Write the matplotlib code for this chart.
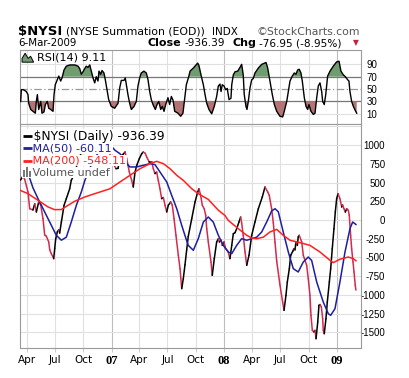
import numpy as np
import matplotlib
matplotlib.use("Agg")
import matplotlib.pyplot as plt
from matplotlib.collections import LineCollection
from matplotlib.patches import Polygon, Rectangle

W, H = 410, 378

# ---- data (x in decimal years) ----
nysi_t = [2006.194, 2006.215, 2006.230, 2006.259, 2006.274, 2006.303, 2006.319, 2006.333,
          2006.354, 2006.372, 2006.392, 2006.407, 2006.421, 2006.443, 2006.452, 2006.466,
          2006.487, 2006.496, 2006.505, 2006.519, 2006.532, 2006.540, 2006.555, 2006.579,
          2006.599, 2006.629, 2006.643, 2006.667, 2006.703, 2006.756, 2006.809, 2006.862,
          2006.916, 2006.969, 2007.013, 2007.040, 2007.058, 2007.075, 2007.091, 2007.105,
          2007.120, 2007.135, 2007.158, 2007.179, 2007.193, 2007.209, 2007.224, 2007.247,
          2007.268, 2007.282, 2007.300, 2007.312, 2007.335, 2007.357, 2007.371, 2007.386,
          2007.401, 2007.415, 2007.430, 2007.445, 2007.460, 2007.475, 2007.490, 2007.504,
          2007.525, 2007.539, 2007.555, 2007.572, 2007.593, 2007.608, 2007.623, 2007.637,
          2007.652, 2007.667, 2007.681, 2007.712, 2007.741, 2007.765, 2007.776, 2007.791,
          2007.806, 2007.823, 2007.836, 2007.845, 2007.859, 2007.883, 2007.894, 2007.912,
          2007.933, 2007.948, 2007.957, 2007.972, 2007.983, 2007.998, 2008.013, 2008.034,
          2008.051, 2008.067, 2008.081, 2008.096, 2008.111, 2008.131, 2008.146, 2008.155,
          2008.169, 2008.185, 2008.200, 2008.220, 2008.244, 2008.273, 2008.303, 2008.338,
          2008.362, 2008.386, 2008.400, 2008.421, 2008.436, 2008.451, 2008.466, 2008.495,
          2008.519, 2008.531, 2008.548, 2008.560, 2008.578, 2008.590, 2008.608, 2008.619,
          2008.628, 2008.637, 2008.649, 2008.657, 2008.666, 2008.688, 2008.702, 2008.717,
          2008.732, 2008.746, 2008.761, 2008.770, 2008.782, 2008.797, 2008.806, 2008.815,
          2008.830, 2008.841, 2008.850, 2008.862, 2008.874, 2008.879, 2008.888, 2008.903,
          2008.915, 2008.933, 2008.945, 2008.959, 2008.974, 2008.986, 2008.998, 2009.010,
          2009.027, 2009.043, 2009.051, 2009.063, 2009.075, 2009.087, 2009.101, 2009.110,
          2009.122, 2009.131, 2009.143, 2009.152, 2009.163, 2009.169]
nysi_v = [535, 590, 540, 374, 151, 134, 218, 107,
          240, 200, 18, -200, -215, -294, -400, -450,
          -517, -383, -250, -160, -130, -175, -27, 196,
          285, 418, 530, 600, 780, 1000, 1150, 1180,
          1120, 950, 760, 686, 690, 842, 864, 880,
          909, 820, 642, 530, 441, 642, 731, 820,
          886, 909, 890, 842, 775, 775, 686, 620,
          640, 530, 418, 285, 300, 196, 107, 196,
          240, 200, 17, -205, -472, -650, -918, -785,
          -600, -400, -220, 17, 240, 374, 418, 330,
          196, 150, 62, -116, -294, -561, -740, -517,
          -294, -250, -294, -270, -339, -294, -383, -420,
          -517, -339, -183, -170, -116, -27, 40, -40,
          -205, -428, -606, -472, -205, -27, 151, 307,
          441, 374, 330, 150, -40, -300, -550, -870,
          -1100, -1208, -1007, -830, -650, -472, -420, -383,
          -400, -294, -340, -227, -205, -294, -472, -540,
          -606, -785, -1007, -1274, -1475, -1497, -1475, -1587,
          -1364, -1140, -1130, -1160, -1320, -1475, -1520, -1320,
          -1096, -829, -650, -383, -116, 107, 285, 352,
          285, 174, 200, 150, 107, 150, 130, 62,
          -205, -383, -560, -695, -873, -936]

ma50_t = [2006.241, 2006.277, 2006.303, 2006.348, 2006.407, 2006.466, 2006.510, 2006.555,
          2006.599, 2006.643, 2006.688, 2006.732, 2006.765, 2006.827, 2006.898, 2006.951,
          2006.987, 2007.031, 2007.075, 2007.135, 2007.164, 2007.224, 2007.282, 2007.342,
          2007.386, 2007.430, 2007.490, 2007.534, 2007.579, 2007.623, 2007.661, 2007.681,
          2007.726, 2007.770, 2007.815, 2007.859, 2007.903, 2007.948, 2007.992, 2008.036,
          2008.067, 2008.111, 2008.155, 2008.200, 2008.244, 2008.288, 2008.333, 2008.377,
          2008.421, 2008.451, 2008.480, 2008.524, 2008.569, 2008.613, 2008.657, 2008.702,
          2008.746, 2008.776, 2008.821, 2008.879, 2008.924, 2008.945, 2008.983, 2009.027,
          2009.072, 2009.116, 2009.140, 2009.169]
ma50_v = [680, 545, 430, 285, 107, -71, -205, -270,
          -230, -27, 196, 374, 535, 760, 940, 1010,
          1007, 932, 886, 753, 709, 709, 731, 753,
          740, 642, 508, 330, 151, -71, -250, -339,
          -405, -250, -27, 40, -27, -205, -339, -428,
          -450, -339, -250, -271, -250, -230, -160, -27,
          120, 151, 110, -160, -428, -650, -695, -561,
          -495, -540, -829, -1096, -1253, -1274, -1186, -829,
          -428, -116, -27, -60]

ma200_t = [2006.188, 2006.259, 2006.348, 2006.437, 2006.496, 2006.555, 2006.614, 2006.673,
           2006.762, 2006.851, 2006.898, 2006.987, 2007.075, 2007.164, 2007.253, 2007.342,
           2007.401, 2007.460, 2007.519, 2007.579, 2007.637, 2007.712, 2007.770, 2007.830,
           2007.859, 2007.948, 2008.007, 2008.036, 2008.125, 2008.200, 2008.244, 2008.288,
           2008.347, 2008.406, 2008.466, 2008.524, 2008.584, 2008.673, 2008.761, 2008.850,
           2008.939, 2008.968, 2009.027, 2009.101, 2009.146, 2009.169]
ma200_v = [397, 352, 263, 174, 138, 140, 196, 250,
           307, 352, 374, 418, 508, 597, 686, 753,
           784, 753, 686, 597, 530, 418, 352, 300,
           275, 130, 60, -5, -116, -205, -240, -250,
           -230, -160, -125, -205, -271, -303, -339, -428,
           -539, -570, -525, -495, -517, -545]

rsi_t = [2006.194, 2006.200, 2006.219, 2006.244, 2006.259, 2006.265, 2006.283, 2006.303,
         2006.324, 2006.333, 2006.342, 2006.354, 2006.372, 2006.383, 2006.401, 2006.413,
         2006.430, 2006.443, 2006.461, 2006.481, 2006.490, 2006.501, 2006.519, 2006.532,
         2006.549, 2006.561, 2006.579, 2006.599, 2006.629, 2006.676, 2006.703, 2006.718,
         2006.732, 2006.747, 2006.762, 2006.776, 2006.791, 2006.807, 2006.821, 2006.836,
         2006.851, 2006.865, 2006.880, 2006.889, 2006.904, 2006.916, 2006.933, 2006.945,
         2006.963, 2006.975, 2006.998, 2007.028, 2007.058, 2007.073, 2007.087, 2007.111,
         2007.122, 2007.146, 2007.161, 2007.176, 2007.200, 2007.220, 2007.235, 2007.250,
         2007.264, 2007.288, 2007.309, 2007.324, 2007.339, 2007.353, 2007.368, 2007.389,
         2007.404, 2007.419, 2007.437, 2007.451, 2007.466, 2007.481, 2007.501, 2007.516,
         2007.531, 2007.546, 2007.561, 2007.590, 2007.614, 2007.634, 2007.650, 2007.664,
         2007.685, 2007.697, 2007.726, 2007.765, 2007.776, 2007.794, 2007.815, 2007.830,
         2007.845, 2007.865, 2007.889, 2007.912, 2007.933, 2007.948, 2007.963, 2007.972,
         2007.983, 2007.998, 2008.013, 2008.027, 2008.043, 2008.060, 2008.067, 2008.081,
         2008.096, 2008.120, 2008.140, 2008.155, 2008.169, 2008.178, 2008.193, 2008.202,
         2008.214, 2008.229, 2008.244, 2008.258, 2008.273, 2008.303, 2008.333, 2008.371,
         2008.386, 2008.406, 2008.427, 2008.445, 2008.466, 2008.495, 2008.519, 2008.533,
         2008.555, 2008.569, 2008.584, 2008.604, 2008.622, 2008.637, 2008.652, 2008.666,
         2008.681, 2008.693, 2008.711, 2008.726, 2008.741, 2008.752, 2008.770, 2008.791,
         2008.806, 2008.821, 2008.835, 2008.850, 2008.865, 2008.874, 2008.888, 2008.901,
         2008.918, 2008.939, 2008.968, 2008.998, 2009.019, 2009.036, 2009.057, 2009.075,
         2009.096, 2009.107, 2009.116, 2009.131, 2009.146, 2009.167, 2009.176]
rsi_v = [30, 49, 49, 46, 41, 27, 17, 14,
         11, 30, 41, 17, 30, 11, 13, 25,
         30, 19, 17, 14, 41, 57, 65, 71,
         63, 68, 81, 87, 89, 89, 87, 83,
         74, 78, 83, 87, 85, 89, 79, 68,
         60, 70, 63, 79, 74, 80, 76, 65,
         46, 33, 22, 19, 27, 52, 64, 64,
         68, 41, 27, 17, 22, 30, 55, 68,
         76, 79, 76, 65, 46, 33, 25, 17,
         25, 30, 17, 22, 14, 25, 36, 25,
         38, 32, 14, 11, 6, 11, 36, 57,
         70, 79, 84, 92, 88, 73, 57, 41,
         27, 17, 10, 22, 38, 55, 58, 46,
         57, 55, 49, 51, 33, 35, 57, 73,
         78, 79, 85, 90, 73, 41, 22, 17,
         30, 52, 65, 67, 76, 84, 90, 93,
         84, 63, 41, 25, 14, 6, 5, 14,
         30, 46, 63, 71, 76, 74, 81, 82,
         76, 63, 36, 22, 17, 25, 14, 9,
         11, 36, 55, 60, 46, 30, 25, 41,
         71, 79, 87, 94, 95, 79, 73, 70,
         65, 63, 46, 30, 22, 14, 11]

assert len(nysi_t) == len(nysi_v)
assert len(ma50_t) == len(ma50_v)
assert len(ma200_t) == len(ma200_v)
assert len(rsi_t) == len(rsi_v)

tick_pos = [2006.247, 2006.496, 2006.748, 2007.0, 2007.247, 2007.496, 2007.748,
            2008.0, 2008.249, 2008.497, 2008.749, 2009.0]
tick_lab = ["Apr", "Jul", "Oct", "07", "Apr", "Jul", "Oct", "08", "Apr", "Jul", "Oct", "09"]
price_ticks = [-1500, -1250, -1000, -750, -500, -250, 0, 250, 500, 750, 1000, 1250]
rsi_ticks = [10, 30, 50, 70, 90]

XLIM = (2006.188, 2009.214)
UP, DOWN = "#000000", "#d42a4e"
GREEN, BROWN = "#6f9d6f", "#b57474"
GRID, YEARGRID, FRAME = "#e0e0e0", "#bdbdbd", "#9a9a9a"

fig = plt.figure(figsize=(W / 100, H / 100), dpi=100)
fig.patch.set_facecolor("white")


def pix_axes(x0, y0, x1, y1):
    return fig.add_axes([x0 / W, 1 - y1 / H, (x1 - x0) / W, (y1 - y0) / H])


ax_rsi = pix_axes(20, 49.5, 361, 124)
ax = pix_axes(20, 124, 361, 348)

for a in (ax_rsi, ax):
    a.set_xlim(*XLIM)
    for s in a.spines.values():
        s.set_color(FRAME)
        s.set_linewidth(0.8)
    for tp, tl in zip(tick_pos, tick_lab):
        a.axvline(tp, color=YEARGRID if tl.isdigit() else GRID, lw=0.8, zorder=0)
    a.yaxis.tick_right()
    a.set_xticks(tick_pos)

# ---- RSI panel ----
r_t = np.array(rsi_t)
r_v = np.array(rsi_v, dtype=float)
ax_rsi.set_ylim(-6.5, 114)
for lv in (10, 90):
    ax_rsi.axhline(lv, color=GRID, lw=0.8, zorder=0)
ax_rsi.axhline(70, color="#777777", lw=0.9, zorder=1)
ax_rsi.axhline(30, color="#777777", lw=0.9, zorder=1)
ax_rsi.axhline(50, color="#999999", lw=0.9, ls=(0, (6, 2, 1, 2)), zorder=1)
ax_rsi.fill_between(r_t, r_v, 70, where=r_v >= 70, interpolate=True, color=GREEN, lw=0, zorder=2)
ax_rsi.fill_between(r_t, r_v, 30, where=r_v <= 30, interpolate=True, color=BROWN, lw=0, zorder=2)
ax_rsi.plot(r_t, r_v, color="black", lw=1.0, zorder=3)
ax_rsi.set_yticks(rsi_ticks)
ax_rsi.set_yticklabels([str(v) for v in rsi_ticks], family="Liberation Sans", fontsize=7, ha="right")
ax_rsi.tick_params(axis="y", length=0, pad=11.5)
ax_rsi.tick_params(axis="x", length=0, labelbottom=False)
ax_rsi.text(0.05, 0.895, "RSI(14) 9.11", transform=ax_rsi.transAxes, fontsize=8,
            family="DejaVu Sans", va="center", ha="left", zorder=5)
icon = Polygon([(0.006, 0.83), (0.006, 0.88), (0.015, 0.95), (0.024, 0.88), (0.031, 0.91),
                (0.040, 0.83)], closed=True, transform=ax_rsi.transAxes,
               facecolor=GREEN, edgecolor="black", lw=0.7, zorder=5)
ax_rsi.add_patch(icon)

# ---- price panel ----
ax.set_ylim(-1711, 1283)
for lv in price_ticks:
    ax.axhline(lv, color=GRID, lw=0.8, zorder=0)

t = np.array(nysi_t)
v = np.array(nysi_v, dtype=float)
segs = np.stack([np.column_stack([t[:-1], v[:-1]]), np.column_stack([t[1:], v[1:]])], axis=1)
cols = [UP if v2 >= v1 else DOWN for v1, v2 in zip(v[:-1], v[1:])]
ax.add_collection(LineCollection(segs, colors=cols, linewidths=1.1, zorder=3,
                                 capstyle="round", joinstyle="round"))
ax.plot(ma50_t, ma50_v, color="#1e1e9e", lw=1.1, zorder=3)
ax.plot(ma200_t, ma200_v, color="#ff2020", lw=1.1, zorder=3)

ax.set_yticks(price_ticks)
ax.set_yticklabels([str(p) if p != 1250 else "" for p in price_ticks],
                   family="Liberation Sans", fontsize=7, ha="right")
ax.tick_params(axis="y", length=0, pad=17.5)
ax.set_xticklabels(tick_lab)
ax.tick_params(axis="x", length=3, color="#cccccc", pad=2)
for lbl in ax.get_xticklabels():
    if lbl.get_text().isdigit():
        lbl.set_fontfamily("Liberation Serif")
        lbl.set_fontweight("bold")
        lbl.set_fontsize(9)
    else:
        lbl.set_fontfamily("DejaVu Sans")
        lbl.set_fontsize(7.5)

# legend rows with white backing, like the original
box = dict(facecolor="white", edgecolor="none", pad=0.6)
rows = [("   $NYSI (Daily) -936.39", "black", 0.946, 8.8),
        ("   MA(50) -60.11", "#1e1e9e", 0.891, 8),
        ("   MA(200) -548.11", "#ff2020", 0.837, 8),
        ("   Volume undef", "#555555", 0.783, 8)]
for txt, c, yy, fs in rows:
    ax.text(0.007, yy, txt, transform=ax.transAxes, color=c, fontsize=fs,
            family="DejaVu Sans", va="center", ha="left", bbox=box, zorder=5)
for (txt, c, yy, fs) in rows[:3]:
    ax.plot([0.009, 0.035], [yy, yy], transform=ax.transAxes, color=c, lw=2.0,
            solid_capstyle="butt", zorder=6)
for bx, bh in zip([0.010, 0.018, 0.026], [0.030, 0.045, 0.025]):
    ax.add_patch(Rectangle((bx, 0.765), 0.005, bh, transform=ax.transAxes,
                           facecolor="#777777", edgecolor="none", zorder=6))

# ---- header ----
def ftext(px, py, s, **kw):
    fig.text(px / W, 1 - py / H, s, va="baseline", **kw)


ftext(18, 35, "$NYSI", fontsize=9.5, fontweight="bold", family="DejaVu Sans")
ftext(66, 35, "(NYSE Summation (EOD))", fontsize=7.8, family="DejaVu Sans")
ftext(212, 35, "INDX", fontsize=7.5, family="DejaVu Sans")
ftext(360, 35, "\u00a9StockCharts.com", fontsize=7.8, family="DejaVu Sans",
      color="#555555", ha="right")
ftext(18, 46, "6-Mar-2009", fontsize=7.4, family="DejaVu Sans")
ftext(148, 46, "Close", fontsize=8, fontweight="bold", family="DejaVu Sans")
ftext(184, 46, "-936.39", fontsize=7.6, family="DejaVu Sans")
ftext(233, 46, "Chg", fontsize=8, fontweight="bold", family="DejaVu Sans")
ftext(259, 46, "-76.95 (-8.95%)", fontsize=7.6, family="DejaVu Sans")
ftext(353, 45, "\u25bc", fontsize=5.5, family="DejaVu Sans", color="#c0223a")

fig.savefig("out.png", dpi=100, facecolor="white")
